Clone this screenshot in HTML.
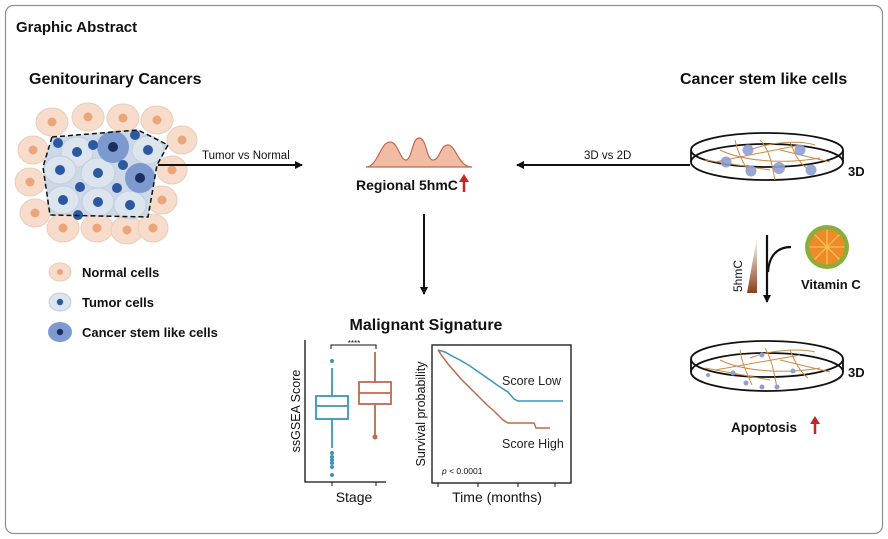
<!DOCTYPE html>
<html><head><style>
body{margin:0;background:#fff;}
svg{display:block;font-family:"Liberation Sans",Arial,sans-serif;}
</style></head><body>
<svg width="888" height="539" viewBox="0 0 888 539" xmlns="http://www.w3.org/2000/svg">
<defs>
<marker id="ah" markerWidth="8" markerHeight="8" refX="7" refY="4" orient="auto" markerUnits="userSpaceOnUse"><path d="M0,0 L8,4 L0,8 z" fill="#111"/></marker>
<linearGradient id="gr" x1="0" y1="1" x2="0" y2="0"><stop offset="0" stop-color="#8b3f1a"/><stop offset="1" stop-color="#fff"/></linearGradient>
</defs>
<rect x="5.5" y="5.5" width="877" height="528" rx="8" fill="#fff" stroke="#8a8f98" stroke-width="1.2"/>
<text x="16" y="32" font-size="15" font-weight="bold" fill="#111">Graphic Abstract</text>
<text x="29" y="84" font-size="16" font-weight="bold" fill="#111">Genitourinary Cancers</text>
<text x="680" y="84" font-size="16" font-weight="bold" fill="#111">Cancer stem like cells</text>

<g stroke="#e8cdbb" stroke-width="1">
<g fill="#f8dccb">
<ellipse cx="52" cy="122" rx="16" ry="14"/><ellipse cx="88" cy="117" rx="16" ry="14"/><ellipse cx="123" cy="118" rx="16" ry="14"/><ellipse cx="157" cy="120" rx="16" ry="14"/><ellipse cx="182" cy="140" rx="15" ry="14"/><ellipse cx="33" cy="150" rx="15" ry="14"/><ellipse cx="172" cy="170" rx="15" ry="14"/><ellipse cx="30" cy="182" rx="15" ry="14"/><ellipse cx="162" cy="200" rx="15" ry="14"/><ellipse cx="35" cy="213" rx="15" ry="14"/><ellipse cx="63" cy="228" rx="16" ry="14"/><ellipse cx="97" cy="228" rx="16" ry="14"/><ellipse cx="127" cy="230" rx="16" ry="14"/><ellipse cx="153" cy="228" rx="15" ry="14"/>
</g>
<g fill="#eca57a" stroke="none">
<circle cx="52" cy="122" r="4.5"/><circle cx="88" cy="117" r="4.5"/><circle cx="123" cy="118" r="4.5"/><circle cx="157" cy="120" r="4.5"/><circle cx="182" cy="140" r="4.5"/><circle cx="33" cy="150" r="4.5"/><circle cx="172" cy="170" r="4.5"/><circle cx="30" cy="182" r="4.5"/><circle cx="162" cy="200" r="4.5"/><circle cx="35" cy="213" r="4.5"/><circle cx="63" cy="228" r="4.5"/><circle cx="97" cy="228" r="4.5"/><circle cx="127" cy="230" r="4.5"/><circle cx="153" cy="228" r="4.5"/>
</g>
</g>
<polygon points="52,137 138,130 168,145 157,165 148,217 50,215 43,167" fill="#cdd9e8"/>
<g fill="#dce4ee" stroke="#c2cedd">
<ellipse cx="77" cy="152" rx="16" ry="15"/><ellipse cx="60" cy="170" rx="16" ry="14"/><ellipse cx="98" cy="173" rx="17" ry="15"/><ellipse cx="148" cy="150" rx="16" ry="14"/><ellipse cx="63" cy="200" rx="16" ry="14"/><ellipse cx="98" cy="202" rx="16" ry="14"/><ellipse cx="130" cy="205" rx="16" ry="14"/>
</g>
<g fill="#7d9ad0"><circle cx="113" cy="147" r="16"/><circle cx="140" cy="178" r="15"/></g>
<g fill="#2b58a0">
<circle cx="77" cy="152" r="5"/><circle cx="60" cy="170" r="5"/><circle cx="98" cy="173" r="5"/><circle cx="148" cy="150" r="5"/><circle cx="63" cy="200" r="5"/><circle cx="98" cy="202" r="5"/><circle cx="130" cy="205" r="5"/>
<circle cx="58" cy="143" r="5"/><circle cx="93" cy="145" r="5"/><circle cx="135" cy="135" r="5"/><circle cx="123" cy="165" r="5"/><circle cx="80" cy="187" r="5"/><circle cx="117" cy="188" r="5"/><circle cx="78" cy="215" r="5"/>
</g>
<g fill="#1b2f5e"><circle cx="113" cy="147" r="5"/><circle cx="140" cy="178" r="5"/></g>
<polygon points="52,137 138,130 168,145 157,165 148,217 50,215 43,167" fill="none" stroke="#111" stroke-width="1.5" stroke-dasharray="5,3"/>

<ellipse cx="60" cy="272" rx="11" ry="9" fill="#f8dccb" stroke="#e8cdbb"/><circle cx="60" cy="272" r="3" fill="#eca57a"/>
<ellipse cx="60" cy="302" rx="11" ry="9" fill="#dce4ee" stroke="#c2cedd"/><circle cx="60" cy="302" r="3.2" fill="#2b58a0"/>
<ellipse cx="60" cy="332" rx="12" ry="10" fill="#7d9ad0"/><circle cx="60" cy="332" r="3.2" fill="#1b2f5e"/>
<g font-size="13" font-weight="bold" fill="#111">
<text x="82" y="277">Normal cells</text><text x="82" y="307">Tumor cells</text><text x="82" y="337">Cancer stem like cells</text>
</g>

<line x1="158" y1="165" x2="302" y2="165" stroke="#111" stroke-width="2" marker-end="url(#ah)"/>
<text x="202" y="159" font-size="11.5" fill="#111">Tumor vs Normal</text>
<line x1="690" y1="165" x2="517" y2="165" stroke="#111" stroke-width="2" marker-end="url(#ah)"/>
<text x="584" y="159" font-size="11.5" fill="#111">3D vs 2D</text>
<line x1="424" y1="214" x2="424" y2="294" stroke="#111" stroke-width="2" marker-end="url(#ah)"/>

<path d="M366,167 C378,167 380,142 390,142 C398,142 400,160 406,160 C412,160 412,138 419,138 C427,138 426,160 433,160 C440,160 440,145 448,145 C456,145 458,167 472,167 Z" fill="#f2bba3" stroke="#c0694d" stroke-width="1.2"/>
<text x="356" y="190" font-size="14" font-weight="bold" fill="#111">Regional 5hmC</text>
<line x1="464" y1="192" x2="464" y2="181" stroke="#c3272b" stroke-width="2.5"/><path d="M459,182 L464,174 L469,182 z" fill="#c3272b"/>

<g stroke="#111" stroke-width="1.8" fill="none">
<ellipse cx="767" cy="162" rx="76" ry="18"/>
<ellipse cx="767" cy="150" rx="76" ry="17"/>
<line x1="691" y1="150" x2="691" y2="162"/><line x1="843" y1="150" x2="843" y2="162"/>
</g>
<g stroke="#c98b4a" stroke-width="1" fill="none">
<path d="M715,162 L800,145 M720,150 C740,160 780,165 820,158 M735,140 C738,155 745,165 750,175 M760,140 C770,150 772,165 775,180 M790,142 C795,155 800,165 810,170 M705,160 L770,170 M780,150 L830,162 M750,150 C770,142 800,140 815,145"/>
</g>
<g fill="#8e9fd0" opacity=".9"><circle cx="726" cy="162" r="5.5"/><circle cx="748" cy="150" r="5.5"/><circle cx="751" cy="171" r="5.5"/><circle cx="779" cy="168" r="6"/><circle cx="800" cy="150" r="5.5"/><circle cx="811" cy="170" r="5.5"/></g>
<text x="848" y="176" font-size="13" font-weight="bold" fill="#111">3D</text>

<polygon points="747,293 757,293 757,237" fill="url(#gr)"/>
<text transform="translate(742,292) rotate(-90)" font-size="12" fill="#111">5hmC</text>
<line x1="767" y1="235" x2="767" y2="302" stroke="#111" stroke-width="2.2" marker-end="url(#ah)"/>
<path d="M768,272 C769,255 778,247 791,247" stroke="#111" stroke-width="2.2" fill="none"/>
<circle cx="827" cy="247" r="22" fill="#8dad3a"/>
<circle cx="827" cy="247" r="17.5" fill="#f08a28"/>
<g stroke="#f7c255" stroke-width="1.3"><line x1="809.5" y1="247" x2="844.5" y2="247"/><line x1="827" y1="229.5" x2="827" y2="264.5"/><line x1="814.6" y1="234.6" x2="839.4" y2="259.4"/><line x1="839.4" y1="234.6" x2="814.6" y2="259.4"/></g>
<text x="801" y="289" font-size="13" font-weight="bold" fill="#111">Vitamin C</text>

<g stroke="#111" stroke-width="1.8" fill="none">
<ellipse cx="767" cy="372" rx="76" ry="19"/>
<ellipse cx="767" cy="359" rx="76" ry="18"/>
<line x1="691" y1="359" x2="691" y2="372"/><line x1="843" y1="359" x2="843" y2="372"/>
</g>
<g stroke="#c98b4a" stroke-width="1" fill="none">
<path d="M715,370 L800,355 M720,360 C740,370 780,375 820,368 M740,350 C742,365 748,375 752,385 M765,348 C772,360 774,372 777,388 M790,350 C795,362 800,372 808,378 M705,368 L770,380 M780,360 L830,372 M750,358 C770,350 800,348 815,352"/>
</g>
<g fill="#8e9fd0"><circle cx="733" cy="373" r="2.5"/><circle cx="762" cy="355" r="2.5"/><circle cx="746" cy="383" r="2.5"/><circle cx="762" cy="387" r="2.5"/><circle cx="777" cy="387" r="2.5"/><circle cx="793" cy="371" r="2.5"/><circle cx="708" cy="375" r="2"/></g>
<text x="848" y="377" font-size="13" font-weight="bold" fill="#111">3D</text>
<text x="731" y="432" font-size="13.5" font-weight="bold" fill="#111">Apoptosis</text>
<line x1="815" y1="434" x2="815" y2="423" stroke="#c3272b" stroke-width="2.5"/><path d="M810,424 L815,416 L820,424 z" fill="#c3272b"/>

<text x="426" y="330" font-size="16" font-weight="bold" fill="#111" text-anchor="middle">Malignant Signature</text>
<path d="M305,340 L305,482 L386,482" stroke="#111" stroke-width="1.3" fill="none"/>
<line x1="332" y1="482" x2="332" y2="486" stroke="#111"/><line x1="376" y1="482" x2="376" y2="486" stroke="#111"/>
<path d="M331,349 L331,345 L376,345 L376,349" stroke="#111" fill="none"/>
<text x="354" y="346" font-size="8" text-anchor="middle" fill="#111">****</text>
<g stroke="#3a95bc" stroke-width="1.8" fill="none">
<line x1="332" y1="368" x2="332" y2="396"/><line x1="332" y1="419" x2="332" y2="448"/>
<rect x="316" y="396" width="32" height="23" fill="#fff"/><line x1="316" y1="406" x2="348" y2="406"/>
</g>
<g fill="#3a95bc"><circle cx="332" cy="361" r="2"/><circle cx="332" cy="453" r="2"/><circle cx="332" cy="457" r="2"/><circle cx="332" cy="460" r="2"/><circle cx="332" cy="463" r="2"/><circle cx="332" cy="467" r="2"/><circle cx="332" cy="475" r="2"/></g>
<g stroke="#c0694d" stroke-width="1.8" fill="none">
<line x1="375" y1="352" x2="375" y2="382"/><line x1="375" y1="404" x2="375" y2="436"/>
<rect x="359" y="382" width="32" height="22" fill="#fff"/><line x1="359" y1="393" x2="391" y2="393"/>
</g>
<circle cx="375" cy="437" r="2.5" fill="#c0694d"/>
<text transform="translate(300,411) rotate(-90)" font-size="12.5" text-anchor="middle" fill="#111">ssGSEA Score</text>
<text x="354" y="502" font-size="14" text-anchor="middle" fill="#111">Stage</text>
<rect x="432" y="345" width="139" height="138" fill="#fff" stroke="#111" stroke-width="1.3"/>
<g stroke="#111"><line x1="438" y1="483" x2="438" y2="487"/><line x1="478" y1="483" x2="478" y2="487"/><line x1="518" y1="483" x2="518" y2="487"/><line x1="555" y1="483" x2="555" y2="487"/></g>
<polyline points="438,350 445,352 452,356 460,360 470,366 480,373 490,380 500,387 508,392 514,399 518,401 563,401" fill="none" stroke="#3a95bc" stroke-width="1.5"/>
<polyline points="438,350 442,356 448,364 455,372 462,380 470,388 478,396 486,404 495,412 503,420 508,423 534,423 536,428 550,428" fill="none" stroke="#c0694d" stroke-width="1.5"/>
<text x="502" y="385" font-size="12.5" fill="#222">Score Low</text>
<text x="502" y="448" font-size="12.5" fill="#222">Score High</text>
<text x="442" y="474" font-size="8.5" fill="#111"><tspan font-style="italic">p</tspan> &lt; 0.0001</text>
<text transform="translate(425,414) rotate(-90)" font-size="12.5" text-anchor="middle" fill="#111">Survival probability</text>
<text x="497" y="502" font-size="14" text-anchor="middle" fill="#111">Time (months)</text>
</svg>
</body></html>
